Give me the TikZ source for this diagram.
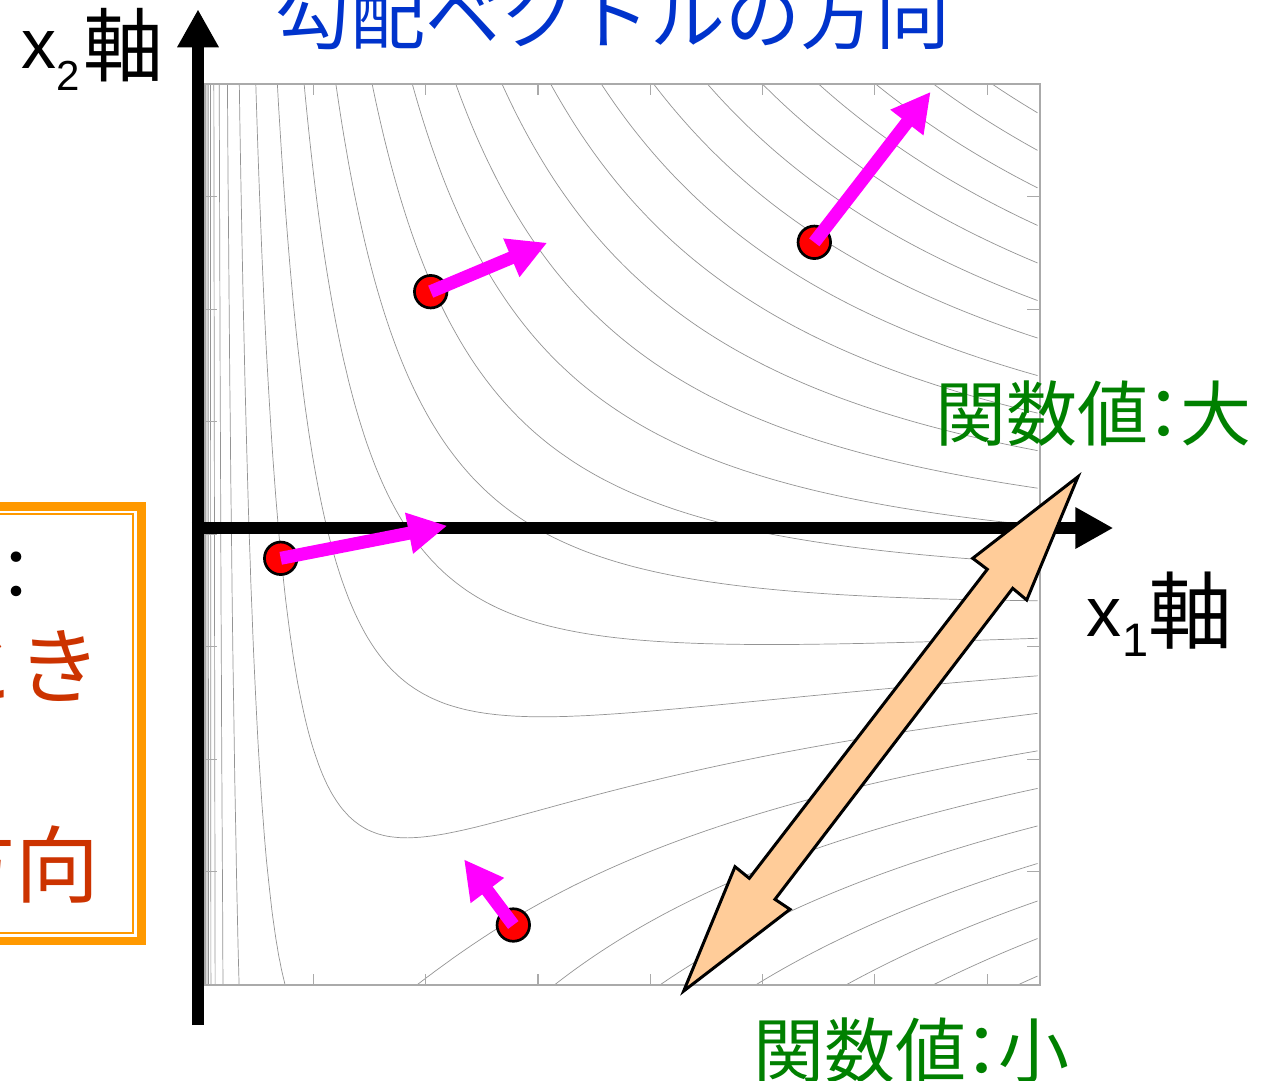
\documentclass[tikz,border=0pt]{standalone}
\usepackage{fontspec}
\newfontfamily\jpf{Noto Sans CJK JP}
\newfontfamily\latf{Liberation Sans}
\usetikzlibrary{arrows.meta}
\definecolor{gradmag}{RGB}{255,0,255}
\definecolor{dotred}{RGB}{255,0,0}
\definecolor{peach}{RGB}{255,204,153}
\definecolor{labgreen}{RGB}{0,128,0}
\definecolor{titleblue}{RGB}{0,51,204}
\definecolor{boxred}{RGB}{204,51,0}
\definecolor{boxorange}{RGB}{255,153,0}
\definecolor{framegray}{RGB}{170,170,170}
\tikzset{
  contourline/.style={draw=black!42, line width=0.7pt},
  frameline/.style={draw=framegray, line width=1.2pt},
  axisline/.style={draw=black, line width=12.3pt, -{Triangle[length=38pt,width=39pt]}},
  gradarrow/.style={draw=gradmag, line width=13pt, -{Triangle[length=39pt,width=39pt]}},
  dotnode/.style={circle, draw=black, fill=dotred, line width=2.7pt, minimum size=32.5pt, inner sep=0pt},
  jplabel/.style={inner sep=0pt, anchor=base west},
}
\begin{document}
\begin{tikzpicture}[x=1pt,y=-1pt]
\useasboundingbox (0,0) rectangle (1267,1080);
\fill[white] (0,0) rectangle (1267,1080);

% ---- contour plot of f(u,v)=ln u + 12.4 u (v-0.497)
\begin{scope}
  \clip (205,84) rectangle (1040,985);
  \foreach \n in {-9,...,14}{
    \pgfmathsetmacro{\cc}{-1.39+0.515*\n}
    \draw[contourline] plot[variable=\t, domain=-6.5:0, samples=360, smooth]
      ({205+835*exp(\t)}, {985-901*max(-0.05,min(1.05,0.497+(\cc-\t)/(12.4*exp(\t))))});
  }
\end{scope}

% ---- plot frame and ticks
\draw[frameline] (205,84) rectangle (1040,985);
\foreach \i in {0,...,6}{
  \pgfmathsetmacro{\tx}{313.3+112.3*\i}
  \pgfmathsetmacro{\ty}{196.7+112.5*\i}
  \draw[frameline] (\tx,985) -- (\tx,974);
  \draw[frameline] (\tx,84) -- (\tx,95);
  \draw[frameline] (205,\ty) -- (217,\ty);
  \draw[frameline] (1040,\ty) -- (1027,\ty);
}

% ---- title (cut by the top edge)
\node[jplabel, text=titleblue, font=\jpf\fontsize{75pt}{75pt}\selectfont] (title) at (275.5,43) {勾配ベクトルの方向};

% ---- left box (cut by the left edge)
\draw[boxorange, line width=8.5pt] (-60,506.5) rectangle (141.5,941);
\draw[boxorange, line width=2pt] (-60,514) rectangle (133,933);
\node[inner sep=0pt, anchor=base, font=\jpf\fontsize{70pt}{70pt}\selectfont] (colon) at (16,600) {：};
\node[inner sep=0pt, anchor=base east, text=boxred, font=\jpf\fontsize{84pt}{84pt}\selectfont] (toki) at (101.5,697) {とき};
\node[inner sep=0pt, anchor=base east, text=boxred, font=\jpf\fontsize{84pt}{84pt}\selectfont] (houkou) at (99.5,896) {方向};

% ---- axes
\coordinate (ybot) at (198,1025);
\coordinate (ytop) at (198,9.3);
\coordinate (xleft) at (191.85,528);
\coordinate (xright) at (1113.3,528);
\draw[axisline] (ybot) -- (ytop);
\draw[axisline] (xleft) -- (xright);

% ---- axis labels
\node[jplabel] (x2lab) at (21,68) {\latf\fontsize{70pt}{70pt}\selectfont x\raisebox{-22pt}{\fontsize{42pt}{42pt}\selectfont 2}\hspace{4pt}\raisebox{-7pt}{\jpf\fontsize{80pt}{80pt}\selectfont 軸}};
\node[jplabel] (x1lab) at (1086,636.7) {\latf\fontsize{70pt}{70pt}\selectfont x\hspace{1.5pt}\raisebox{-20pt}{\fontsize{47pt}{47pt}\selectfont 1}\hspace{0pt}\raisebox{-6pt}{\jpf\fontsize{84pt}{84pt}\selectfont 軸}};

% ---- gradient vectors
\node[dotnode] (p1) at (430.7,291.7) {};
\node[dotnode] (p2) at (814.3,242.3) {};
\node[dotnode] (p3) at (280.7,558.3) {};
\node[dotnode] (p4) at (513.3,925) {};
\coordinate (t1) at (547.3,242.7);
\coordinate (t2) at (930.7,91.7);
\coordinate (t3) at (447.3,525.7);
\coordinate (t4) at (464,859.3);
\draw[gradarrow] (p1.center) -- (t1);
\draw[gradarrow] (p2.center) -- (t2);
\draw[gradarrow] (p3.center) -- (t3);
\draw[gradarrow] (p4.center) -- (t4);

% ---- double block arrow
\coordinate (da1) at (1078,476.7);
\coordinate (da2) at (972.7,558.3);
\coordinate (da3) at (987.3,569.3);
\coordinate (da4) at (749.3,878.3);
\coordinate (da5) at (735,866.7);
\coordinate (da6) at (683.7,991);
\coordinate (da7) at (790,909.3);
\coordinate (da8) at (775,899.3);
\coordinate (da9) at (1012.7,588.3);
\coordinate (da10) at (1026.7,600);
\draw[fill=peach, draw=black, line width=3pt, line join=miter]
  (da1) -- (da2) -- (da3) -- (da4) -- (da5) -- (da6) -- (da7) -- (da8) -- (da9) -- (da10) -- cycle;

% ---- function value labels
\node[jplabel, text=labgreen, font=\jpf\fontsize{71pt}{71pt}\selectfont] (fbig) at (935,440) {関数値\makebox[0.45em]{：}大};
\node[jplabel, text=labgreen, font=\jpf\fontsize{71pt}{71pt}\selectfont] (fsmall) at (753,1077) {関数値\makebox[0.45em]{：}小};
\end{tikzpicture}
\end{document}
